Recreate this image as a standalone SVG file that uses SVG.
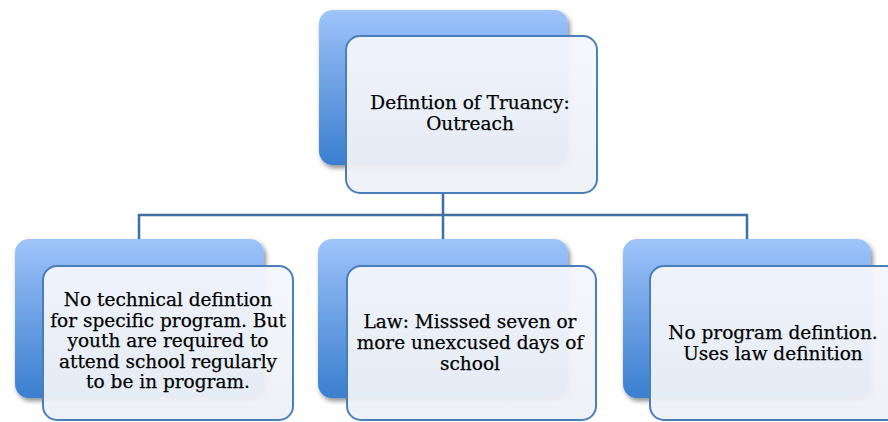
<svg xmlns="http://www.w3.org/2000/svg" width="888" height="422" viewBox="0 0 888 422">
<defs>
<linearGradient id="bg" x1="0" y1="0" x2="0" y2="1">
<stop offset="0" stop-color="#9ec5fb"/>
<stop offset="0.35" stop-color="#7aaaea"/>
<stop offset="1" stop-color="#3a7fd0"/>
</linearGradient>
<linearGradient id="fg" x1="0" y1="0" x2="0" y2="1">
<stop offset="0" stop-color="#f4f6fc" stop-opacity="0.95"/>
<stop offset="1" stop-color="#edf1f5" stop-opacity="0.95"/>
</linearGradient>
<filter id="sh" x="-10%" y="-10%" width="125%" height="125%">
<feGaussianBlur in="SourceAlpha" stdDeviation="2.5"/>
<feOffset dx="2" dy="3" result="b"/>
<feComponentTransfer><feFuncA type="linear" slope="0.45"/></feComponentTransfer>
<feMerge><feMergeNode/><feMergeNode in="SourceGraphic"/></feMerge>
</filter>
</defs>
<style>
.back{fill:url(#bg);filter:url(#sh)}
.front{fill:url(#fg);stroke:#4a7ebb;stroke-width:2}
.conn{fill:none;stroke:#3f6f9f;stroke-width:2.5}
text{font-family:"DejaVu Serif","Liberation Serif",serif;font-size:18.5px;fill:#000;text-anchor:middle;stroke:#000;stroke-width:0.25}
</style>
<g id="connectors">
<path class="conn" d="M443 193 V215 M139 239 V215 H747 V239 M443 215 V239"/>
</g>
<g id="top">
<rect class="back" x="319" y="10" width="249" height="155" rx="14"/>
<rect class="front" x="346" y="36" width="251" height="157" rx="14"/>
<text x="470" y="109">Defintion of Truancy:</text>
<text x="470" y="130">Outreach</text>
</g>
<g id="left">
<rect class="back" x="15" y="239" width="249" height="159" rx="14"/>
<rect class="front" x="43" y="266" width="250" height="154" rx="14"/>
<text x="168" y="306">No technical defintion</text>
<text x="168" y="326.5">for specific program. But</text>
<text x="168" y="347">youth are required to</text>
<text x="168" y="367.5">attend school regularly</text>
<text x="168" y="388">to be in program.</text>
</g>
<g id="middle">
<rect class="back" x="318" y="239" width="250" height="159" rx="14"/>
<rect class="front" x="347" y="266" width="249" height="154" rx="14"/>
<text x="470" y="328">Law: Misssed seven or</text>
<text x="470" y="349">more unexcused days of</text>
<text x="470" y="370">school</text>
</g>
<g id="right">
<rect class="back" x="623" y="239" width="248" height="159" rx="14"/>
<rect class="front" x="650" y="266" width="250" height="154" rx="14"/>
<text x="773" y="339">No program defintion.</text>
<text x="773" y="360">Uses law definition</text>
</g>
</svg>
